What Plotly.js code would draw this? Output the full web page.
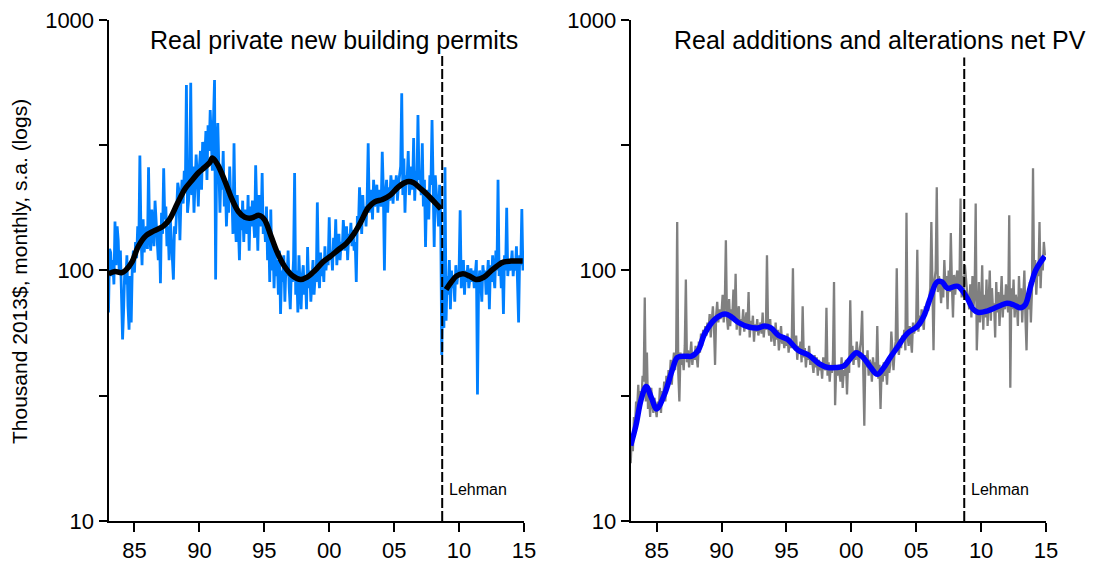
<!DOCTYPE html>
<html>
<head>
<meta charset="utf-8">
<script src="https://cdn.plot.ly/plotly-3.0.1.min.js"></script>
<style>html,body{margin:0;padding:0;background:#fff;}#chart{width:1095px;height:563px;}</style>
</head>
<body>
<div id="chart"></div>
<script>
// ---------- DATA ----------
const startYear = 1983; // monthly series start (January 1983)

// Real private new building permits, monthly, thousand 2013$
const permitsMonthly = [
  68,122,118,95,110,88,157,105,150,132,96,120,      // 1983
  80,53,70,100,88,115,72,58,95,62,105,120,         // 1984
  98,130,112,150,125,288,140,105,160,118,135,150,  // 1985
  122,258,140,120,175,150,125,190,160,135,110,145, // 1986
  89,170,140,256,160,180,125,150,110,165,140,120,  // 1987
  92,150,140,175,224,210,132,195,230,185,250,210,  // 1988
  550,170,190,230,562,200,260,170,210,290,240,180, // 1989
  260,300,210,326,250,280,360,230,380,300,437,330, // 1990
  250,400,576,92,300,388,230,170,260,210,300,180,  // 1991
  230,150,200,170,260,190,210,140,322,160,130,200, // 1992
  150,110,170,145,190,130,175,160,140,200,120,180, // 1993
  150,190,165,135,263,170,120,200,160,150,245,140, // 1994
  160,130,180,110,150,90,175,100,130,85,120,95,    // 1995
  110,80,120,67,100,90,115,75,105,95,120,85,       // 1996
  70,100,90,110,245,80,100,68,115,88,70,95,        // 1997
  105,80,95,70,124,85,100,75,90,110,80,96,         // 1998
  90,187,100,85,118,95,110,90,125,100,115,105,     // 1999
  163,110,120,100,135,115,160,105,125,140,110,130, // 2000
  120,159,135,120,150,110,140,130,155,125,145,120, // 2001
  130,90,165,150,215,170,140,200,160,180,150,190,  // 2002
  322,170,200,210,160,230,180,190,220,170,210,200, // 2003
  180,298,210,100,200,230,170,215,190,240,200,185, // 2004
  230,210,240,190,220,250,260,510,200,280,170,240, // 2005
  230,300,200,220,260,210,338,190,250,220,417,230, // 2006
  250,200,322,180,230,124,210,190,160,240,220,399, // 2007
  180,124,240,200,175,150,220,165,46,110,59,258,   // 2008
  63,95,80,110,70,100,85,92,75,105,88,98,          // 2009
  100,174,85,95,110,80,100,90,105,85,96,102,       // 2010
  90,100,85,95,110,32,85,100,90,75,105,95,         // 2011
  100,80,95,110,70,105,90,115,95,85,120,100,       // 2012
  230,95,110,85,105,67,115,100,178,95,110,100,     // 2013
  105,120,95,110,100,125,90,62,115,105,176,100     // 2014
];

// Smoothed trend of permits (two segments, broken at Lehman)
const permitsTrendYears = [1983.0,1983.5,1984.0,1984.3,1984.8,1985.3,1985.9,1986.5,1987.2,1987.7,1988.3,1988.9,1989.4,1989.9,1990.4,1990.8,1991.0,1991.4,1992.0,1992.5,1993.0,1993.5,1994.0,1994.6,1995.0,1995.5,1996.0,1996.6,1997.2,1997.8,1998.3,1998.9,1999.5,2000.1,2000.7,2001.3,2001.9,2002.4,2003.0,2003.5,2004.1,2004.7,2005.3,2006.0,2006.5,2007.0,2007.5,2008.0,2008.6,
  null,
  2009.0,2009.4,2009.8,2010.3,2010.8,2011.3,2011.9,2012.4,2012.9,2013.4,2014.0,2014.9];
const permitsTrend = [97,99,98,100,108,125,138,144,150,160,185,212,228,245,258,270,281,265,225,193,172,163,162,166,160,138,118,103,95,92,94,100,108,114,121,128,140,155,178,188,192,200,215,226,224,213,202,190,176,
  null,
  84,90,95,97,95,92,94,99,104,108,109,109];

// Real additions and alterations net PV, monthly, thousand 2013$
const additionsMonthly = [
  17,22,19,26,24,30,28,35,27,33,31,38,   // 1983
  36,78,30,47,28,32,26,34,29,27,31,28,   // 1984
  26,30,28,34,27,33,31,36,30,38,34,40,   // 1985
  37,44,35,42,47,40,45,156,39,30,47,42,  // 1986
  45,40,50,92,43,48,41,46,52,42,47,44,   // 1987
  50,45,41,52,47,56,50,58,54,60,55,62,   // 1988
  58,67,54,63,72,60,42,66,75,62,70,64,   // 1989
  68,80,62,73,132,65,58,77,60,70,66,84,  // 1990
  63,97,58,67,72,55,64,60,70,57,62,68,   // 1991
  60,82,54,63,58,66,52,61,57,64,55,59,   // 1992
  62,56,68,54,61,58,115,60,55,64,52,59,  // 1993
  57,50,62,53,58,48,56,60,51,55,49,54,   // 1994
  50,56,47,53,49,55,102,52,48,55,44,50,  // 1995
  47,52,43,72,45,49,41,47,44,50,42,46,   // 1996
  43,39,46,41,45,38,44,40,42,37,45,41,   // 1997
  40,71,38,43,36,42,39,44,90,29,41,38,   // 1998
  42,38,36,45,34,40,38,44,32,43,39,76,   // 1999
  45,50,42,48,44,52,47,41,49,53,69,44,   // 2000
  24,46,41,48,38,44,42,36,45,40,43,38,   // 2001
  60,37,42,28,40,36,43,38,41,35,44,39,   // 2002
  42,57,45,40,48,52,102,50,46,53,49,55,  // 2003
  52,58,48,170,55,50,60,54,47,62,56,59,  // 2004
  63,121,57,66,60,70,64,58,72,66,75,69,  // 2005
  78,85,156,80,48,92,100,215,82,95,88,74,// 2006
  90,78,110,85,95,70,100,82,141,88,65,96,// 2007
  80,92,100,85,88,194,78,95,84,105,90,82,// 2008
  78,70,88,65,95,72,80,185,48,68,90,62,  // 2009
  70,105,58,80,65,92,60,75,100,63,85,70, // 2010
  74,54,90,68,82,60,78,95,65,80,70,88,   // 2011
  75,68,166,34,85,70,92,65,80,75,60,95,  // 2012
  72,85,62,78,100,65,48,80,70,90,62,82,  // 2013
  256,90,110,80,100,95,156,85,113,100,130,115 // 2014
];

const additionsTrendYears = [1983.0,1983.4,1983.8,1984.2,1984.6,1985.0,1985.6,1986.2,1986.6,1987.2,1987.7,1988.2,1988.7,1989.5,1990.3,1990.8,1991.3,1992.1,1992.8,1993.3,1993.8,1994.4,1995.1,1995.9,1996.7,1997.5,1998.2,1998.8,1999.4,2000.0,2000.4,2000.9,2001.5,2002.0,2002.5,2003.0,2003.5,2004.3,2005.1,2005.6,2006.1,2006.6,2007.0,2007.4,2008.2,2008.9,2009.4,2009.8,2010.5,2011.5,2012.0,2012.5,2013.0,2013.4,2013.8,2014.2,2014.9];
const additionsTrend = [20,24,30.5,34.4,31,28,32,40,45,45.5,45.5,48,56,64,67,65,62,59.5,59,60,59,55,53,48,46,42.5,41,41,41.5,45,47,45,41,38.5,41,45,49,56,60,66,78,90,90,85,86.5,78,70,68,69,72.5,74,73,71,73,86,100,114];

const lehmanYear = 2008.7;
const yearTicks = [1985,1990,1995,2000,2005,2010,2015];
const yearTickLabels = ['85','90','95','00','05','10','15'];
const yTicks = [10, 31.62, 100, 316.2, 1000];
const yTickLabels = ['10','','100','','1000'];
const gridLevels = [31.62, 100, 316.2];
const panelTitles = ['Real private new building permits','Real additions and alterations net PV'];
const yTitle = 'Thousand 2013$, monthly, s.a. (logs)';

// ---------- BUILD ----------
const monthYears = n => Array.from({length:n}, (_,i) => startYear + i/12);

const traces = [
  {x: monthYears(permitsMonthly.length), y: permitsMonthly, xaxis:'x', yaxis:'y', mode:'lines',
   line:{color:'rgb(0,128,255)', width:2.8}, hoverinfo:'skip'},
  {x: permitsTrendYears, y: permitsTrend, xaxis:'x', yaxis:'y', mode:'lines', connectgaps:false,
   line:{color:'#000', width:5.5, shape:'spline', smoothing:1}, hoverinfo:'skip'},
  {x: monthYears(additionsMonthly.length), y: additionsMonthly, xaxis:'x2', yaxis:'y2', mode:'lines',
   line:{color:'rgb(128,128,128)', width:2.3}, hoverinfo:'skip'},
  {x: additionsTrendYears, y: additionsTrend, xaxis:'x2', yaxis:'y2', mode:'lines',
   line:{color:'rgb(0,0,255)', width:5.5, shape:'spline', smoothing:1}, hoverinfo:'skip'}
];

const fontFam = 'Liberation Sans, Arial, sans-serif';
const yDom = [0.0746, 0.9645];
function xAx(dom, anchor){
  return {domain:dom, anchor:anchor, range:[1983,2015], showline:true, linecolor:'#000', linewidth:2,
    ticks:'outside', ticklen:9, tickwidth:2, tickcolor:'#000', tickvals:yearTicks, ticktext:yearTickLabels,
    showgrid:false, zeroline:false, tickfont:{family:fontFam, size:22, color:'#000'}, fixedrange:true};
}
function yAx(anchor){
  return {domain:yDom, anchor:anchor, type:'log', range:[1,3], showline:true, linecolor:'#000', linewidth:2,
    ticks:'outside', ticklen:8, tickwidth:2, tickcolor:'#000', tickvals:yTicks, ticktext:yTickLabels,
    showgrid:false, zeroline:false, tickfont:{family:fontFam, size:22, color:'#000'}, fixedrange:true};
}

const shapes = [];
[['x','y'],['x2','y2']].forEach(([xa,ya]) => {
  gridLevels.forEach(v => shapes.push({type:'line', layer:'below', xref:xa+' domain', yref:ya,
    x0:0, x1:1, y0:Math.log10(v), y1:Math.log10(v), line:{color:'#808080', width:1, dash:'3px,2px'}}));
  shapes.push({type:'line', layer:'above', xref:xa, yref:ya+' domain', x0:lehmanYear, x1:lehmanYear,
    y0:0, y1:0.945, line:{color:'#000', width:2, dash:'10px,3px'}});
});

const annotations = [
  {xref:'paper', yref:'paper', x:334/1095, y:1-40/563, text:panelTitles[0], showarrow:false,
   xanchor:'center', yanchor:'middle', bgcolor:'#fff', borderpad:1, font:{family:fontFam, size:25, color:'#000'}},
  {xref:'paper', yref:'paper', x:880/1095, y:1-40/563, text:panelTitles[1], showarrow:false,
   xanchor:'center', yanchor:'middle', bgcolor:'#fff', borderpad:3, font:{family:fontFam, size:25, color:'#000'}},
  {xref:'paper', yref:'paper', x:19/1095, y:1-272/563, text:yTitle, textangle:-90, showarrow:false,
   xanchor:'center', yanchor:'middle', font:{family:fontFam, size:21, color:'#000'}},
  {xref:'x', yref:'y', x:lehmanYear+0.35, y:Math.log10(13.4), text:'Lehman', showarrow:false,
   xanchor:'left', yanchor:'middle', font:{family:fontFam, size:16, color:'#000'}},
  {xref:'x2', yref:'y2', x:lehmanYear+0.35, y:Math.log10(13.4), text:'Lehman', showarrow:false,
   xanchor:'left', yanchor:'middle', font:{family:fontFam, size:16, color:'#000'}}
];

const layout = {
  width:1095, height:563, margin:{l:0, r:0, t:0, b:0},
  paper_bgcolor:'#fff', plot_bgcolor:'#fff', showlegend:false,
  font:{family:fontFam, color:'#000'},
  xaxis: xAx([108.5/1095, 524/1095], 'y'),
  yaxis: yAx('x'),
  xaxis2: xAx([630.7/1095, 1046/1095], 'y2'),
  yaxis2: yAx('x2'),
  shapes: shapes, annotations: annotations
};

Plotly.newPlot('chart', traces, layout, {displayModeBar:false, staticPlot:true});
</script>
</body>
</html>
